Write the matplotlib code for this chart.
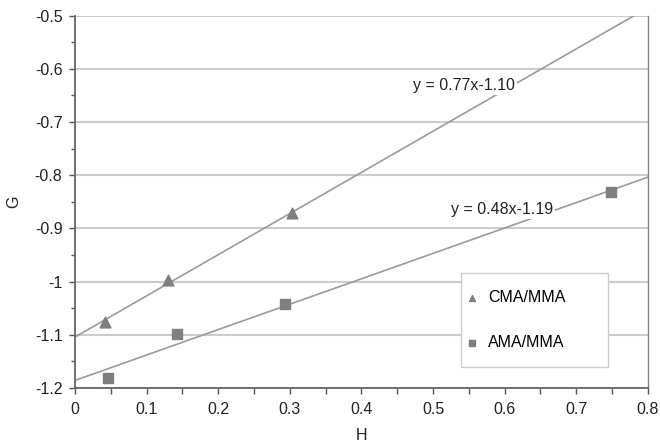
import numpy as np
import matplotlib.pyplot as plt
from matplotlib.patches import Rectangle

plt.rcParams['font.family'] = ['Liberation Sans', 'DejaVu Sans']

# data
cma_h = [0.042, 0.130, 0.303]
cma_g = [-1.076, -0.997, -0.872]
ama_h = [0.046, 0.143, 0.293, 0.749]
ama_g = [-1.182, -1.099, -1.042, -0.832]
cma_label = 'CMA/MMA'
ama_label = 'AMA/MMA'
cma_eq = 'y = 0.77x-1.10'
ama_eq = 'y = 0.48x-1.19'

fig = plt.figure(figsize=(6.6, 4.43), dpi=100)
ax = fig.add_axes([0.1136, 0.124, 0.868, 0.841])

# linear trendlines fitted through the points
xs = np.array([0.0, 0.8])
for hx, gy in [(cma_h, cma_g), (ama_h, ama_g)]:
    k, b = np.polyfit(hx, gy, 1)
    ax.plot(xs, k * xs + b, color='#9a9a9a', lw=1.2, zorder=2)

ax.scatter(cma_h, cma_g, marker='^', s=60, color='#7f7f7f', zorder=3, label=cma_label)
ax.scatter(ama_h, ama_g, marker='s', s=60, color='#7f7f7f', zorder=3, label=ama_label)

bbox = dict(facecolor='white', edgecolor='none', pad=1.5)
ax.text(0.543, -0.632, cma_eq, ha='center', va='center', fontsize=11.5, color='#222222', bbox=bbox, zorder=4)
ax.text(0.596, -0.865, ama_eq, ha='center', va='center', fontsize=11.5, color='#222222', bbox=bbox, zorder=4)

ax.set_xlim(0, 0.8)
ax.set_ylim(-1.2, -0.5)
ax.set_xticks(np.arange(0, 0.81, 0.1))
ax.set_xticks(np.arange(0, 0.81, 0.05), minor=True)
ax.set_yticks(np.arange(-1.2, -0.49, 0.1))
ax.set_yticks(np.arange(-1.2, -0.49, 0.05), minor=True)
ax.set_xticklabels(['0', '0.1', '0.2', '0.3', '0.4', '0.5', '0.6', '0.7', '0.8'])
ax.set_yticklabels(['-1.2', '-1.1', '-1', '-0.9', '-0.8', '-0.7', '-0.6', '-0.5'])
ax.tick_params(axis='both', which='both', labelsize=11.5, colors='#555555', labelcolor='#222222')
ax.tick_params(axis='x', which='both', length=4, width=1, pad=6)
ax.tick_params(axis='y', which='major', length=4, width=1, pad=5)
ax.tick_params(axis='y', which='minor', length=3, width=1)

ax.grid(axis='y', which='major', color='#cccccc', lw=1.5, zorder=1)
ax.set_axisbelow(True)

for side in ['left', 'bottom']:
    ax.spines[side].set_color('#666666')
    ax.spines[side].set_linewidth(1.3)
ax.spines['right'].set_color('#888888')
ax.spines['right'].set_linewidth(1.0)
ax.spines['top'].set_visible(False)

ax.set_xlabel('H', fontsize=11.5, color='#222222', labelpad=8)
ax.set_ylabel('G', fontsize=11.5, color='#222222', labelpad=10)

# legend box drawn separately so the handles can sit close to its left edge
ax.add_patch(Rectangle((0.674, 0.056), 0.2565, 0.252, transform=ax.transAxes,
                       facecolor='white', edgecolor='#cccccc', lw=1.0, zorder=5))
leg = ax.legend(loc='center left', bbox_to_anchor=(0.6876, 0.182), borderaxespad=0,
                fontsize=11.5, frameon=False, labelspacing=1.9, borderpad=0,
                handletextpad=0.8, markerscale=0.55, handlelength=0.4)
leg.set_zorder(6)

fig.savefig('out.png', dpi=100)
